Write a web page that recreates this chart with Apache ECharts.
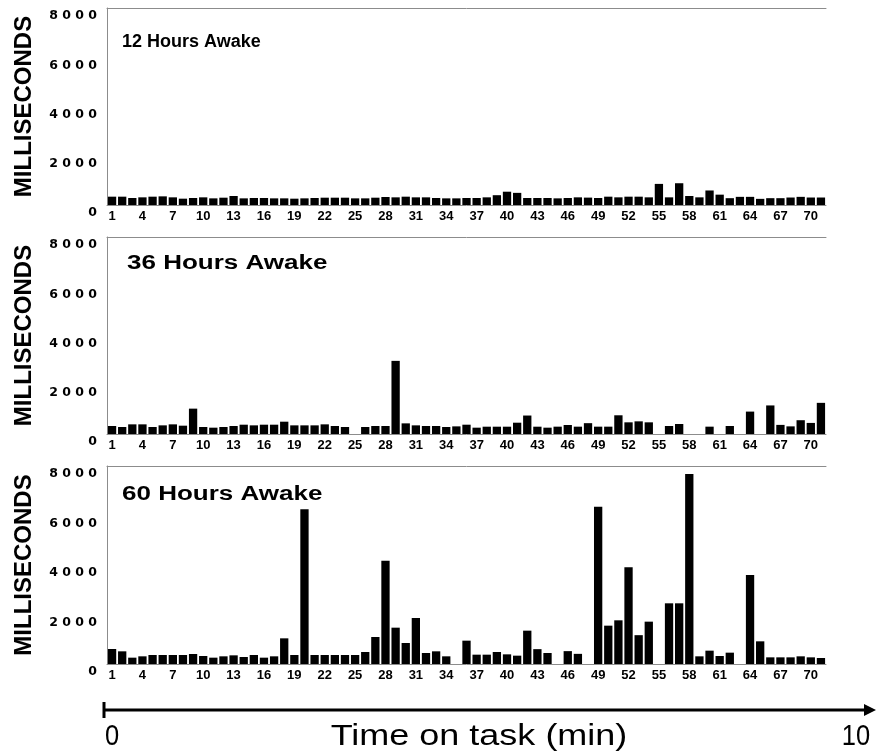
<!DOCTYPE html>
<html>
<head>
<meta charset="utf-8">
<script src="https://cdn.jsdelivr.net/npm/echarts@6/dist/echarts.min.js"></script>
<style>
html,body{margin:0;padding:0;background:#fff;}
#chart{width:877px;height:754px;}
</style>
</head>
<body>
<div id="chart"></div>
<script>
// ---- data ----
var categories = [1,2,3,4,5,6,7,8,9,10,11,12,13,14,15,16,17,18,19,20,21,22,23,24,25,26,27,28,29,30,31,32,33,34,35,36,37,38,39,40,41,42,43,44,45,46,47,48,49,50,51,52,53,54,55,56,57,58,59,60,61,62,63,64,65,66,67,68,69,70,71];
var panelTitles = ["12 Hours Awake", "36 Hours Awake", "60 Hours Awake"];
var yTicks = [0, 2000, 4000, 6000, 8000];
var hours12 = [338,338,284,311,338,351,311,257,284,311,270,297,365,270,284,284,270,270,257,270,284,297,297,297,270,270,297,324,311,338,311,311,284,270,270,
               284,284,311,398,540,493,284,284,284,270,284,311,300,284,338,311,338,338,311,857,311,884,365,311,590,420,277,331,331,250,277,277,304,331,304,304];
var hours36 = [324,284,392,392,284,351,392,338,1030,284,257,284,324,378,351,378,378,500,351,351,351,392,324,284,null,284,324,324,2970,432,351,324,324,284,310,
               378,257,297,297,297,459,750,297,257,298,365,298,440,298,298,760,474,514,474,null,325,406,null,null,298,null,325,null,910,null,1160,370,310,560,450,1265];
var hours60 = [606,512,256,310,364,364,364,364,404,323,256,310,350,283,364,256,310,1037,364,6250,364,364,364,364,364,485,1091,4176,1468,849,1859,444,512,310,null,
               943,377,377,485,390,337,1347,600,444,null,520,410,null,6358,1549,1765,3906,1165,1711,null,2452,2452,7678,310,539,323,458,null,3597,916,269,269,269,310,269,242];
var timeAxisLabels = ["0", "Time on task (min)", "10"];

// ---- layout ----
var seriesData = [hours12, hours36, hours60];
var grids = [
  {left:107, top:8, width:719, height:197},
  {left:107, top:237, width:719, height:197},
  {left:107, top:466, width:719, height:198}
];
var gray = '#8c8c8c';
var option = {
  backgroundColor:'#fff',
  animation:false,
  grid: grids,
  xAxis: [],
  yAxis: [],
  series: [],
  graphic: []
};
for (var p = 0; p < 3; p++) {
  option.xAxis.push({
    type:'category', gridIndex:p, data:categories,
    axisLine:{show:true, lineStyle:{color:gray, width:1}},
    axisTick:{show:false},
    axisLabel:{interval:2, color:'#000', fontWeight:'bold', fontSize:13, fontFamily:'Liberation Sans, Arial', margin:5}
  });
  option.xAxis.push({
    type:'category', gridIndex:p, data:categories, position:'top',
    axisLine:{show:true, lineStyle:{color:gray, width:1}},
    axisTick:{show:false}, axisLabel:{show:false}
  });
  option.yAxis.push({
    type:'value', gridIndex:p, min:yTicks[0], max:yTicks[yTicks.length-1], interval:2000,
    axisLine:{show:true, lineStyle:{color:gray, width:1}},
    axisTick:{show:false},
    splitLine:{show:false},
    axisLabel:{color:'#000', fontWeight:'bold', fontSize:12.5, fontFamily:'DejaVu Sans', margin:10,
      verticalAlign:'top', lineHeight:16,
      formatter:function(v){ return String(v).split('').join(' '); }},
    name:'MILLISECONDS', nameLocation:'middle', nameRotate:90, nameGap:71,
    nameTextStyle:{color:'#000', fontWeight:'bold', fontSize:24, fontFamily:'Liberation Sans, Arial'}
  });
  option.series.push({
    type:'bar', xAxisIndex:p*2, yAxisIndex:p, data:seriesData[p],
    barCategoryGap:'18%',
    itemStyle:{color:'#000'}
  });
}
// panel titles
var titlePos = [{x:122, y:42, size:18, sx:1.0},{x:127, y:263, size:20, sx:1.3},{x:122, y:494, size:20, sx:1.3}];
for (var t = 0; t < 3; t++) {
  option.graphic.push({
    type:'text', x:titlePos[t].x, y:titlePos[t].y, scaleX:titlePos[t].sx,
    style:{text:panelTitles[t], fill:'#000', font:'bold '+titlePos[t].size+'px "Liberation Sans", Arial', textAlign:'left', textVerticalAlign:'middle'}
  });
}
// time arrow
option.graphic.push({type:'line', shape:{x1:104, y1:710, x2:866, y2:710}, style:{stroke:'#000', lineWidth:3}});
option.graphic.push({type:'line', shape:{x1:104, y1:702, x2:104, y2:718}, style:{stroke:'#000', lineWidth:3}});
option.graphic.push({type:'polygon', shape:{points:[[864,704],[876,710],[864,716]]}, style:{fill:'#000'}});
var bottomFont = '30px "Liberation Sans", Arial';
option.graphic.push({type:'text', x:112, y:737, scaleX:0.85, style:{text:timeAxisLabels[0], fill:'#000', font:bottomFont, textAlign:'center', textVerticalAlign:'middle'}});
option.graphic.push({type:'text', x:479, y:737, scaleX:1.2, style:{text:timeAxisLabels[1], fill:'#000', font:bottomFont, textAlign:'center', textVerticalAlign:'middle'}});
option.graphic.push({type:'text', x:856, y:737, scaleX:0.85, style:{text:timeAxisLabels[2], fill:'#000', font:bottomFont, textAlign:'center', textVerticalAlign:'middle'}});

var chart = echarts.init(document.getElementById('chart'), null, {renderer:'canvas'});
chart.setOption(option);
</script>
</body>
</html>
